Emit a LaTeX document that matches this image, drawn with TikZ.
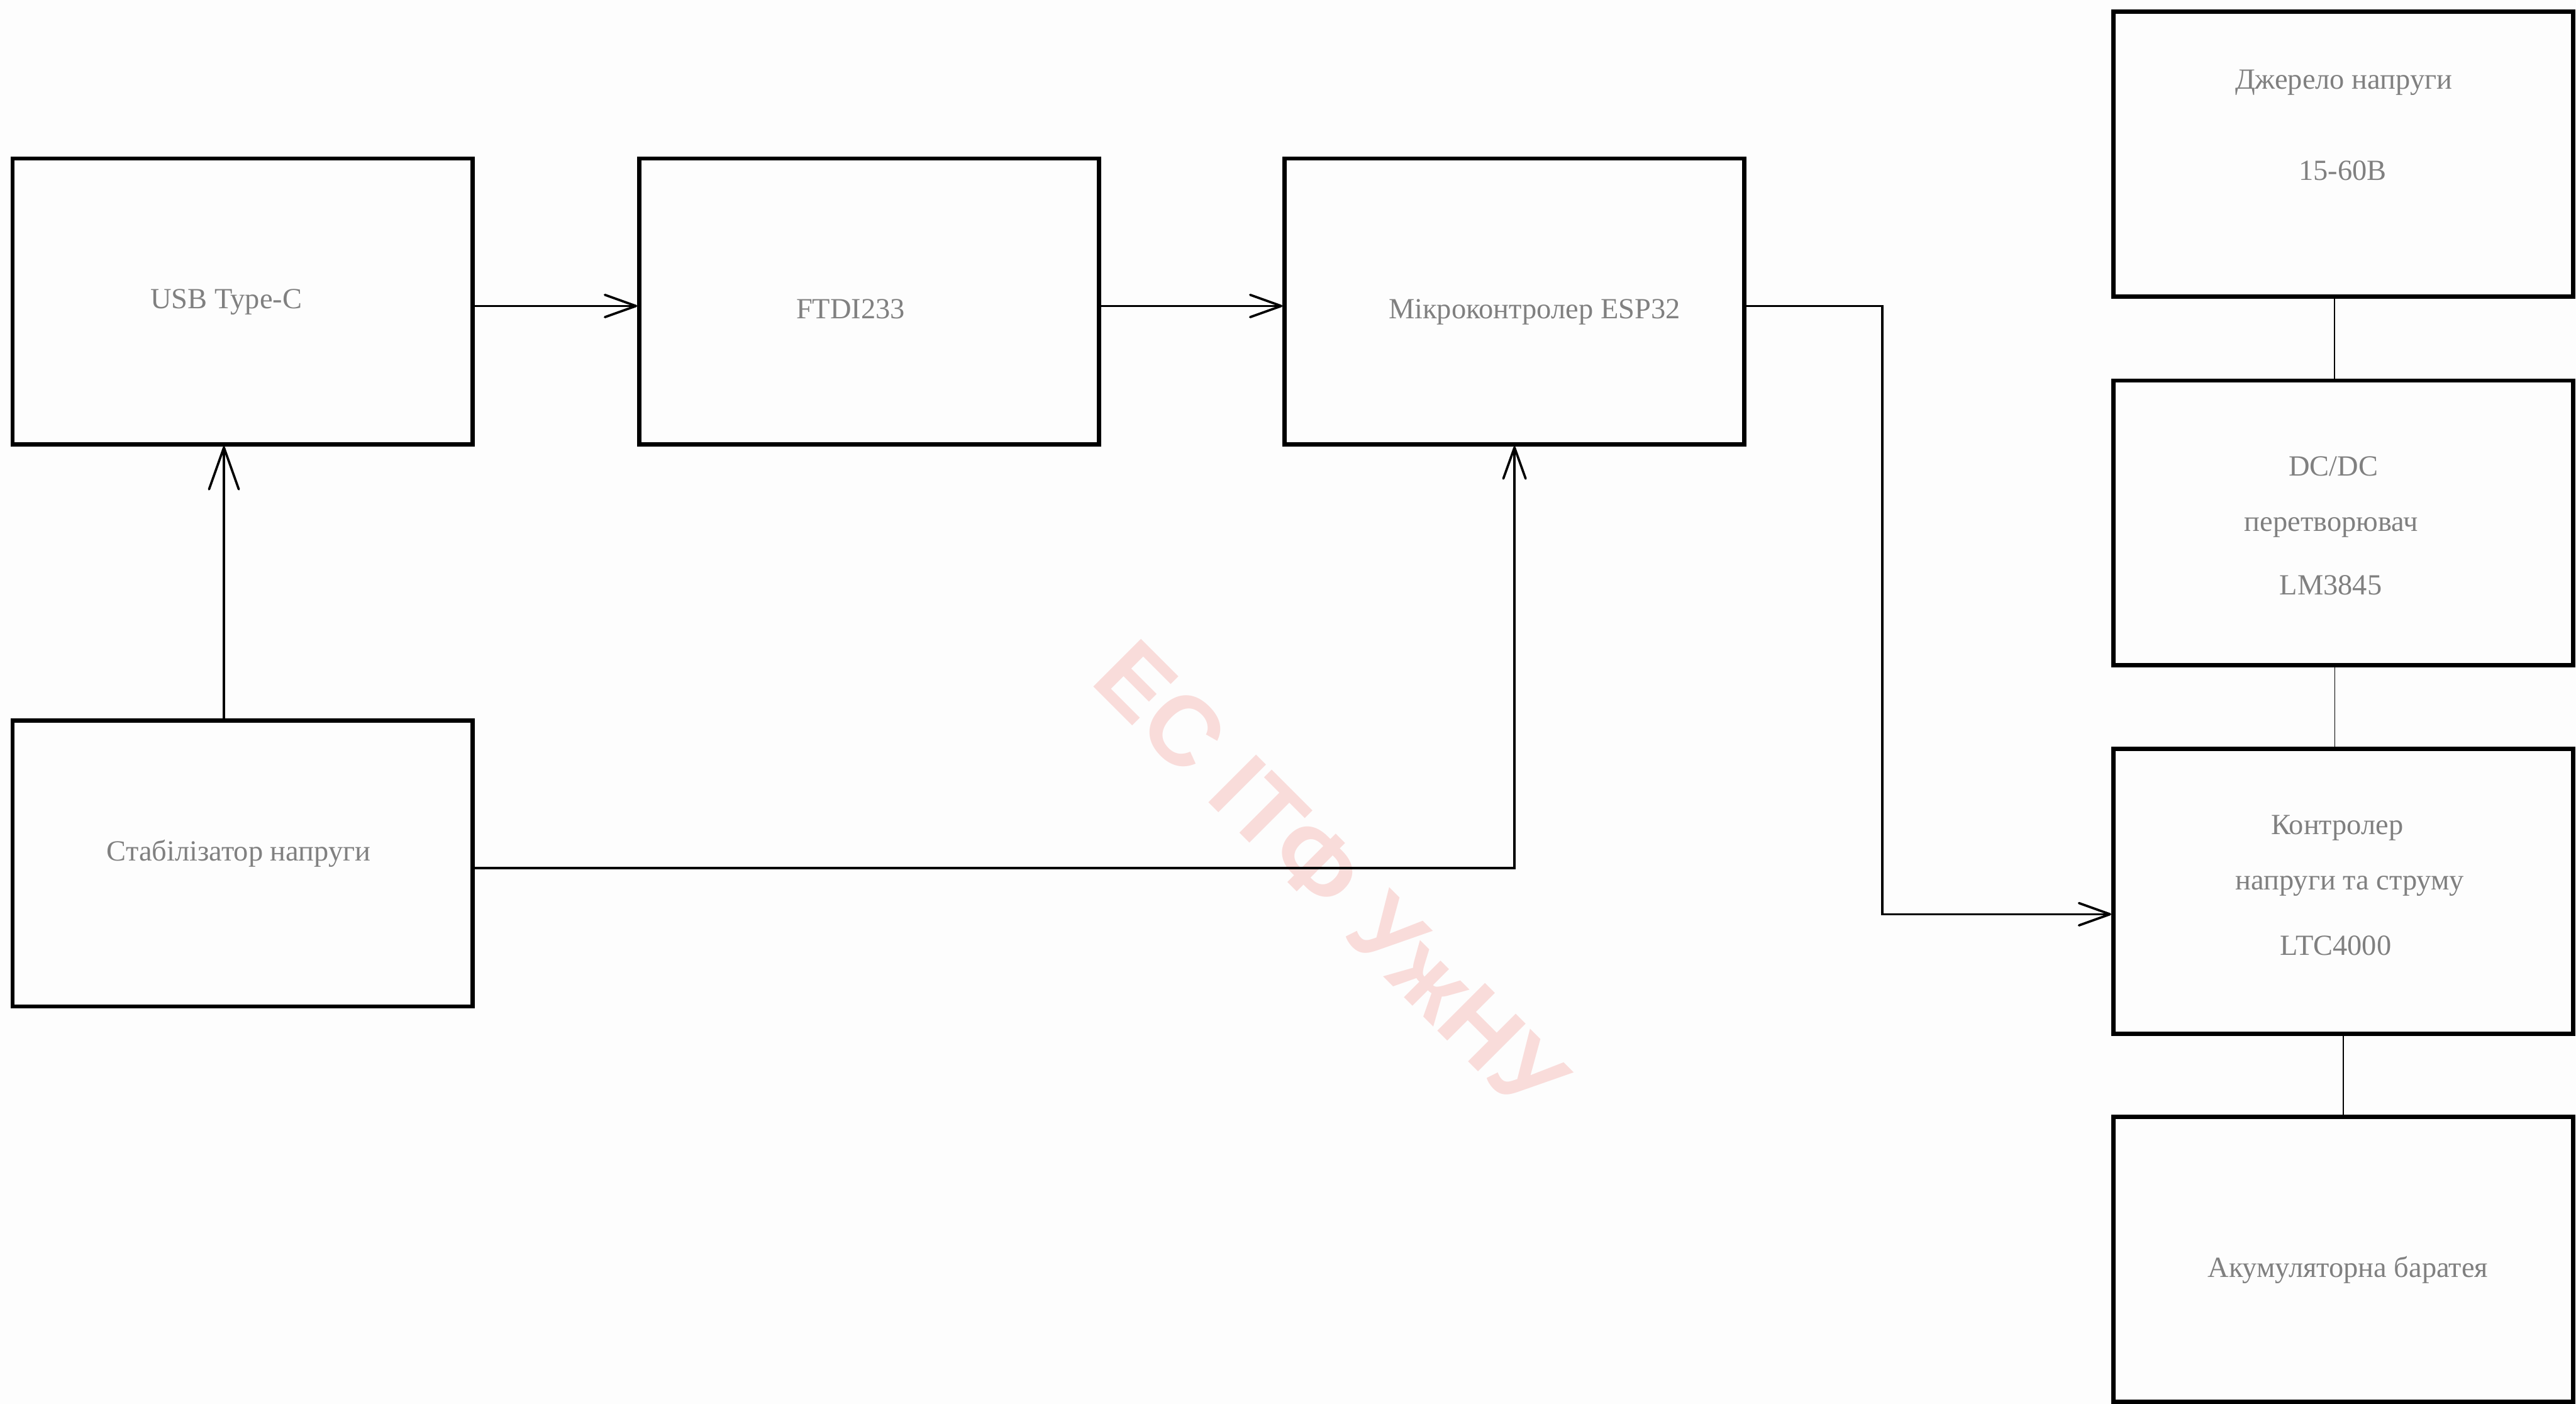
\documentclass[tikz,border=0pt]{standalone}
\usepackage{fontspec}
\setmainfont{Liberation Serif}
\newfontfamily\wmfont{Liberation Sans}
\usetikzlibrary{arrows.meta}

\definecolor{boxtext}{RGB}{128,128,128}
\definecolor{wmpink}{RGB}{249,220,218}
\definecolor{pagebg}{RGB}{253,253,253}

\begin{document}
\begin{tikzpicture}[x=1cm,y=1cm]
\tikzset{
  blockbox/.style={rectangle,draw=black,line width=0.09cm,minimum width=9.9cm,minimum height=6.15cm,inner sep=0pt},
  rightbox/.style={blockbox,minimum height=6.13cm},
  blocktext/.style={anchor=base,inner sep=0pt,text=boxtext,font=\fontsize{17.9}{21}\selectfont},
  graphedge/.style={draw=black,line width=0.05cm},
  directed/.style={graphedge,-{Straight Barb[length=6.7mm,width=4.8mm,round]}},
  bigdirected/.style={graphedge,-{Straight Barb[length=9mm,width=6.4mm,round]}},
  plainlink/.style={draw=black,line width=0.02cm},
  watermark/.style={anchor=base,inner sep=0pt,text=wmpink,font=\wmfont\bfseries\fontsize{60}{72}\selectfont,rotate=-45}
}
\useasboundingbox[fill=pagebg] (0,0) rectangle (55.45,-30.21);
% watermark behind everything
\node[watermark] (wm) at (28.14,-19.39) {ЕС ІТФ УжНУ};
% left blocks
\node[blockbox] (n_usb) at (5.22,-6.485) {};
\node[blockbox] (n_ftdi) at (18.71,-6.485) {};
\node[blockbox] (n_esp) at (32.60,-6.485) {};
\node[blockbox] (n_stab) at (5.22,-18.585) {};
% power chain
\node[rightbox] (n_src) at (50.44,-3.315) {};
\node[rightbox] (n_dcdc) at (50.44,-11.255) {};
\node[rightbox] (n_ctrl) at (50.44,-19.185) {};
\node[rightbox] (n_batt) at (50.44,-27.10) {};
% labels
\node[blocktext] (t_usb) at (4.87,-6.64) {USB Type-C};
\node[blocktext] (t_ftdi) at (18.31,-6.85) {FTDI233};
\node[blocktext] (t_esp) at (33.03,-6.86) {Мікроконтролер ESP32};
\node[blocktext] (t_stab) at (5.14,-18.53) {Стабілізатор напруги};
\node[blocktext] (t_src1) at (50.45,-1.91) {Джерело напруги};
\node[blocktext] (t_src2) at (50.43,-3.88) {15-60В};
\node[blocktext] (t_dc1) at (50.23,-10.24) {DC/DC};
\node[blocktext] (t_dc2) at (50.18,-11.43) {перетворювач};
\node[blocktext] (t_dc3) at (50.17,-12.80) {LM3845};
\node[blocktext] (t_ctl1) at (50.31,-17.96) {Контролер};
\node[blocktext] (t_ctl2) at (50.58,-19.15) {напруги та струму};
\node[blocktext] (t_ctl3) at (50.28,-20.55) {LTC4000};
\node[blocktext] (t_bat) at (50.54,-27.49) {Акумуляторна баратея};
% connections
\coordinate (c_esp) at (40.52,-12.00);
\draw[directed] ([yshift=-0.1cm]n_usb.east) -- ([yshift=-0.1cm]n_ftdi.west);
\draw[directed] ([yshift=-0.1cm]n_ftdi.east) -- ([yshift=-0.1cm]n_esp.west);
\draw[directed] ([yshift=-0.1cm]n_esp.east) -| (c_esp) |- ([yshift=-0.49cm]n_ctrl.west);
\draw[bigdirected] ([xshift=-0.4cm]n_stab.north) -- ([xshift=-0.4cm]n_usb.south);
\draw[directed] ([yshift=-0.1cm]n_stab.east) -| (n_esp.south);
\draw[plainlink] ([xshift=-0.19cm]n_src.south) -- ([xshift=-0.19cm]n_dcdc.north);
\draw[plainlink] ([xshift=-0.18cm]n_dcdc.south) -- ([xshift=-0.18cm]n_ctrl.north);
\draw[plainlink] (n_ctrl.south) -- (n_batt.north);
\end{tikzpicture}
\end{document}
